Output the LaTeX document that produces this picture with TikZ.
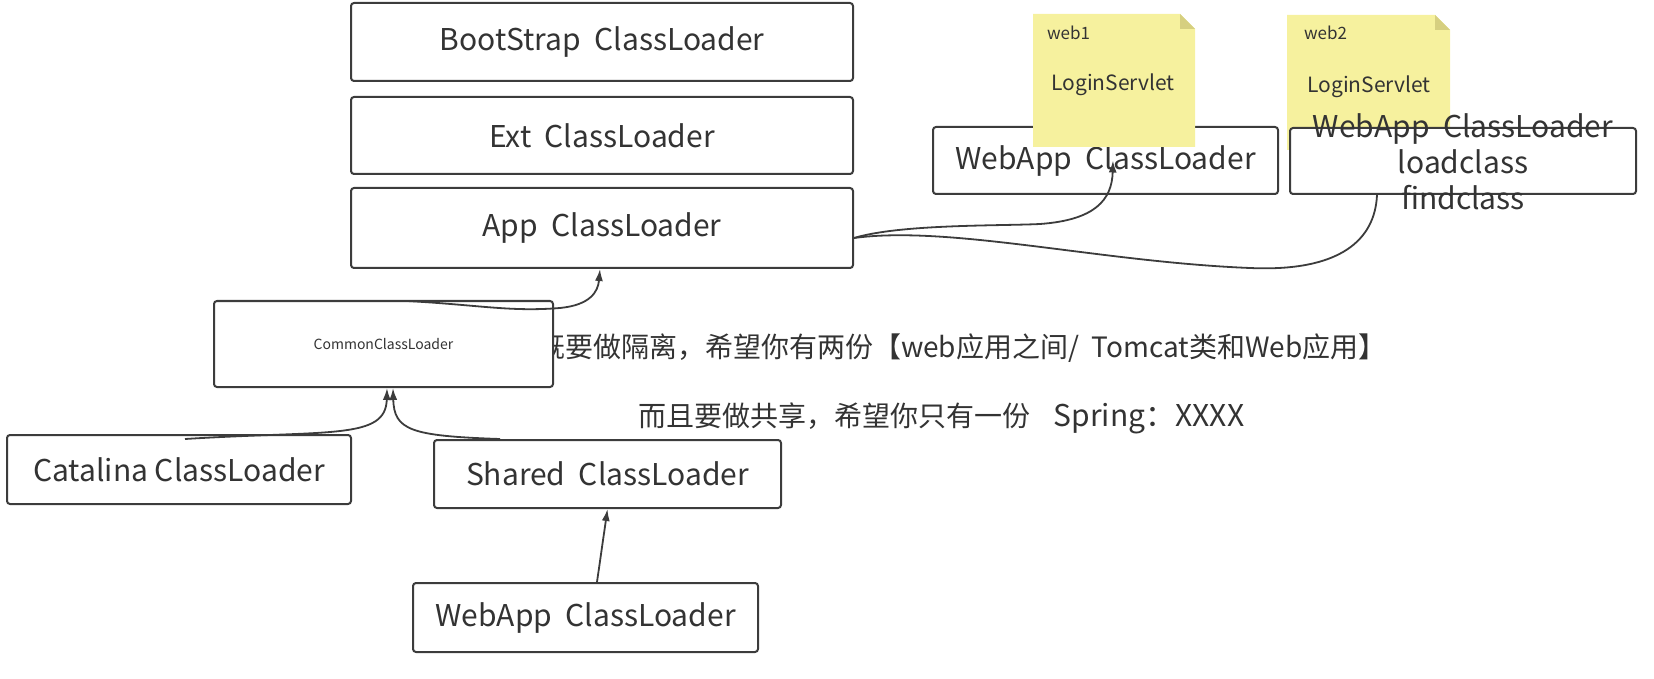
\documentclass[tikz,border=0pt]{standalone}
\usepackage{fontspec}
\setmainfont{Noto Sans CJK SC}
\usetikzlibrary{arrows.meta, positioning}
\definecolor{notey}{RGB}{246,241,158}
\definecolor{foldy}{RGB}{214,207,128}
\definecolor{linegray}{RGB}{60,60,60}
\definecolor{txtgray}{RGB}{51,51,51}

\begin{document}
\begin{tikzpicture}[
  x=0.5pt, y=-0.5pt,
  every node/.style={text=txtgray},
  loader/.style={rectangle, draw=linegray, line width=1pt, rounded corners=1.5pt, fill=white, inner sep=0pt, font=\fontsize{15}{17}\selectfont},
  remark/.style={anchor=west, font=\fontsize{14}{16}\selectfont},
  tag/.style={anchor=west, font=\fontsize{8.5}{10}\selectfont},
  servlet/.style={font=\fontsize{10.5}{12}\selectfont},
  arrow/.style={-{Latex[length=6pt,width=4pt]}, draw=linegray, line width=0.9pt},
  wire/.style={draw=linegray, line width=0.9pt}
]
\useasboundingbox (0,0) rectangle (1654,679);

% Remarks (the first one runs under the common box)
\node[remark] (isolate) at (530,348) {既要做隔离，希望你有两份【web应用之间/~~Tomcat类和Web应用】};
\node[remark] (share) at (631,418) {而且要做共享，希望你只有一份\hspace{0.85em}{\fontsize{15}{16}\selectfont Spring：XXXX}};

% JVM loaders
\node[loader, minimum width=251pt, minimum height=39pt] (boot) at (602,42) {BootStrap~~ClassLoader};
\node[loader, minimum width=251pt, minimum height=38.5pt] (ext) at (602,135.5) {Ext~~ClassLoader};
\node[loader, minimum width=251pt, minimum height=40pt] (app) at (602,228) {App~~ClassLoader};

% Tomcat loaders
\node[loader, minimum width=169.5pt, minimum height=43pt, font=\fontsize{7}{8}\selectfont] (common) at (383.5,344) {CommonClassLoader};
\node[loader, minimum width=172pt, minimum height=34.5pt] (catalina) at (179,469.5) {Catalina ClassLoader};
\node[loader, minimum width=173.5pt, minimum height=34pt] (shared) at (607.5,474) {Shared~~ClassLoader};
\node[loader, minimum width=172.5pt, minimum height=34.5pt] (webapp) at (585.5,617.5) {WebApp~~ClassLoader};

% web1
\node[loader, minimum width=172.5pt, minimum height=33.5pt] (webone) at (1105.5,160.5) {WebApp~~ClassLoader};
\fill[notey] (1033,14) -- (1180,14) -- (1195,29) -- (1195,147) -- (1033,147) -- cycle;
\fill[foldy] (1180,14) -- (1195,29) -- (1180,29) -- cycle;
\node[tag] (webonetag) at (1040,33) {web1};
\node[servlet] (oneservlet) at (1113,85) {LoginServlet};

% web2
\fill[notey] (1287,15) -- (1435,15) -- (1450,30) -- (1450,150) -- (1287,150) -- cycle;
\fill[foldy] (1435,15) -- (1450,30) -- (1435,30) -- cycle;
\node[tag] (webtwotag) at (1297,33) {web2};
\node[servlet] (twoservlet) at (1369,87) {LoginServlet};
\node[loader, minimum width=173pt, minimum height=33pt] (webtwo) at (1463,161) {};
\node[align=center, font=\fontsize{15}{18}\selectfont] (webtwotext) at ([yshift=-0.5pt]webtwo.center) {WebApp~~ClassLoader\\loadclass\\findclass};

% Arrows
\draw[arrow] ([xshift=5.75pt]webapp.north) -- (shared.south);
\draw[arrow] ([xshift=3pt,yshift=-2.5pt]catalina.north) .. controls (330,430) and (386,440) .. ([xshift=1.75pt]common.south);
\draw[arrow] ([xshift=-53.75pt]shared.north) .. controls (410,436) and (394,430) .. ([xshift=4.75pt]common.south);
\draw[arrow] ([xshift=11.75pt,yshift=-0.5pt]common.north) .. controls (480,305) and (510,312) .. (560,308) .. controls (590,305) and (598,292) .. ([xshift=-1pt]app.south);
\draw[arrow] ([yshift=-5pt]app.east) .. controls (900,224) and (1000,226) .. (1040,224) .. controls (1095,220) and (1112,200) .. ([xshift=3.75pt]webone.center);
\draw[wire] ([yshift=-5pt]app.east) .. controls (950,225) and (1100,262) .. (1250,268) .. controls (1340,272) and (1375,240) .. ([xshift=-43pt]webtwo.south);

\end{tikzpicture}
\end{document}
